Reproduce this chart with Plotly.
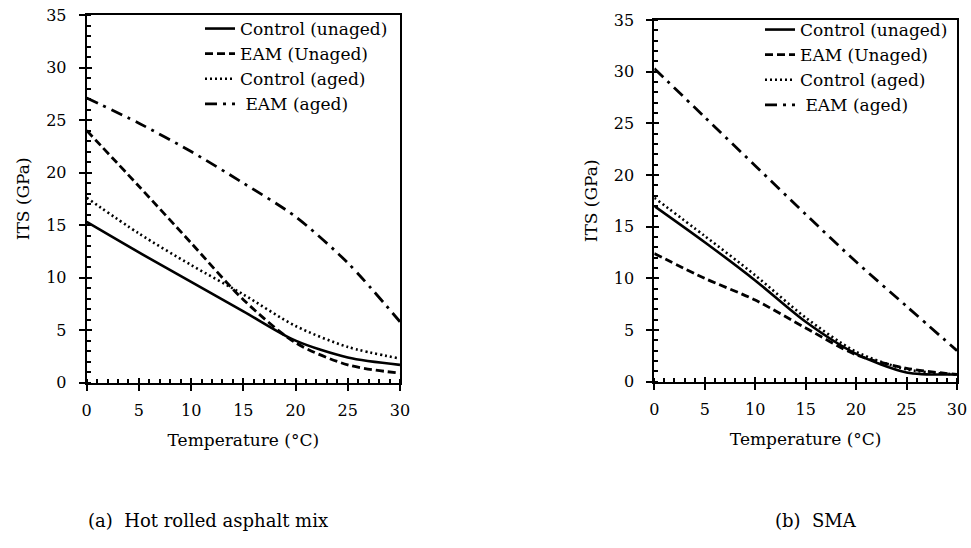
import plotly.graph_objects as go

W, H = 971, 548

temps = [0, 5, 10, 15, 20, 25, 30]

# (a) Hot rolled asphalt mix
hra_control_unaged = [15.3, 12.4, 9.6, 6.8, 4.0, 2.4, 1.7]
hra_eam_unaged = [24.0, 18.7, 13.3, 7.9, 3.8, 1.7, 0.9]
hra_control_aged = [17.6, 14.2, 11.2, 8.4, 5.4, 3.4, 2.3]
hra_eam_aged = [27.1, 24.7, 22.0, 19.0, 15.8, 11.4, 5.8]

# (b) SMA
sma_control_unaged = [17.0, 13.5, 9.8, 5.8, 2.7, 0.9, 0.7]
sma_eam_unaged = [12.4, 10.0, 7.9, 5.2, 2.6, 1.3, 0.7]
sma_control_aged = [17.8, 14.1, 10.3, 6.2, 2.9, 1.2, 0.7]
sma_eam_aged = [30.3, 25.6, 20.9, 16.2, 11.6, 7.3, 3.0]

series_names = ["Control (unaged)", "EAM (Unaged)", "Control (aged)", " EAM (aged)"]
dashes = ["solid", "8px,4px", "2px,3px", "12px,6px,3px,6px"]
widths = [2.6, 2.8, 2.6, 2.8]

FONT = "DejaVu Serif"

fig = go.Figure()

panels = [
    ("x", "y", "legend", [hra_control_unaged, hra_eam_unaged, hra_control_aged, hra_eam_aged]),
    ("x2", "y2", "legend2", [sma_control_unaged, sma_eam_unaged, sma_control_aged, sma_eam_aged]),
]
for xa, ya, lg, data in panels:
    for name, vals, dash, w in zip(series_names, data, dashes, widths):
        fig.add_trace(go.Scatter(
            x=temps, y=vals, mode="lines", name=name,
            line=dict(color="black", width=w, dash=dash, shape="spline", smoothing=0.8),
            xaxis=xa, yaxis=ya, legend=lg, showlegend=True,
        ))

# invisible traces for overlay tick axes (inner half of the major ticks)
for xa, ya in [("x3", "y3"), ("x4", "y4")]:
    fig.add_trace(go.Scatter(x=[None], y=[None], xaxis=xa, yaxis=ya, showlegend=False,
                             hoverinfo="skip"))

def px_x(p):
    return p / W

def px_y(p):
    return (H - p) / H

left_dom_x = [px_x(86.7), px_x(400)]
left_dom_y = [px_y(382.7), px_y(15)]
right_dom_x = [px_x(654.3), px_x(957)]
right_dom_y = [px_y(381.7), px_y(20)]

tickfont = dict(family=FONT, size=16, color="black")
titlefont = dict(family=FONT, size=17, color="black")

def xaxis(domain, anchor):
    return dict(
        domain=domain, anchor=anchor, range=[0, 30], dtick=5, tick0=0, automargin=False,
        showline=True, linecolor="black", linewidth=2, mirror=True,
        ticks="outside", ticklen=6, tickwidth=2, tickcolor="black",
        minor=dict(ticks="inside", ticklen=4, tickwidth=1.5, dtick=1, tickcolor="black", showgrid=False),
        showgrid=False, zeroline=False, tickfont=tickfont, ticklabelstandoff=6,
        title=dict(text="Temperature (°C)", font=titlefont, standoff=15),
    )

def yaxis(domain, anchor):
    return dict(
        domain=domain, anchor=anchor, range=[0, 35], dtick=5, tick0=0, automargin=False,
        showline=True, linecolor="black", linewidth=2, mirror=True,
        ticks="outside", ticklen=6, tickwidth=2, tickcolor="black",
        minor=dict(ticks="inside", ticklen=4, tickwidth=1.5, dtick=1, tickcolor="black", showgrid=False),
        showgrid=False, zeroline=False, tickfont=tickfont, ticklabelstandoff=9,
        title=dict(text="ITS (GPa)", font=titlefont, standoff=12),
    )

def overlay_x(over, anchor):
    return dict(overlaying=over, anchor=anchor, range=[0, 30], dtick=5, tick0=0, automargin=False,
                ticks="inside", ticklen=5, tickwidth=2, tickcolor="black",
                showticklabels=False, showline=False, showgrid=False, zeroline=False, side="bottom")

def overlay_y(over, anchor):
    return dict(overlaying=over, anchor=anchor, range=[0, 35], dtick=5, tick0=0, automargin=False,
                ticks="inside", ticklen=5, tickwidth=2, tickcolor="black",
                showticklabels=False, showline=False, showgrid=False, zeroline=False, side="left")

legend_common = dict(
    bgcolor="rgba(0,0,0,0)", borderwidth=0, font=dict(family=FONT, size=17, color="black"),
    xanchor="left", yanchor="top", tracegroupgap=0, itemwidth=30,
)

fig.update_layout(
    width=W, height=H, margin=dict(l=0, r=0, t=0, b=0, autoexpand=False),
    paper_bgcolor="white", plot_bgcolor="white",
    font=dict(family=FONT, color="black"),
    xaxis=xaxis(left_dom_x, "y"),
    yaxis=yaxis(left_dom_y, "x"),
    xaxis2=xaxis(right_dom_x, "y2"),
    yaxis2=yaxis(right_dom_y, "x2"),
    xaxis3=overlay_x("x", "y3"),
    yaxis3=overlay_y("y", "x3"),
    xaxis4=overlay_x("x2", "y4"),
    yaxis4=overlay_y("y2", "x4"),
    legend=dict(x=px_x(200), y=px_y(11), **legend_common),
    legend2=dict(x=px_x(760), y=px_y(12), **legend_common),
    showlegend=True,
    annotations=[
        dict(text="(a)  Hot rolled asphalt mix", x=px_x(208), y=px_y(520), xref="paper", yref="paper",
             showarrow=False, font=dict(family=FONT, size=18, color="black"), xanchor="center", yanchor="middle"),
        dict(text="(b)  SMA", x=px_x(816), y=px_y(520), xref="paper", yref="paper",
             showarrow=False, font=dict(family=FONT, size=18, color="black"), xanchor="center", yanchor="middle"),
    ],
)

fig.write_html(
    "out.html",
    config={"displayModeBar": False},
    post_script="document.body.style.margin='0px';document.body.style.overflow='hidden';",
)
